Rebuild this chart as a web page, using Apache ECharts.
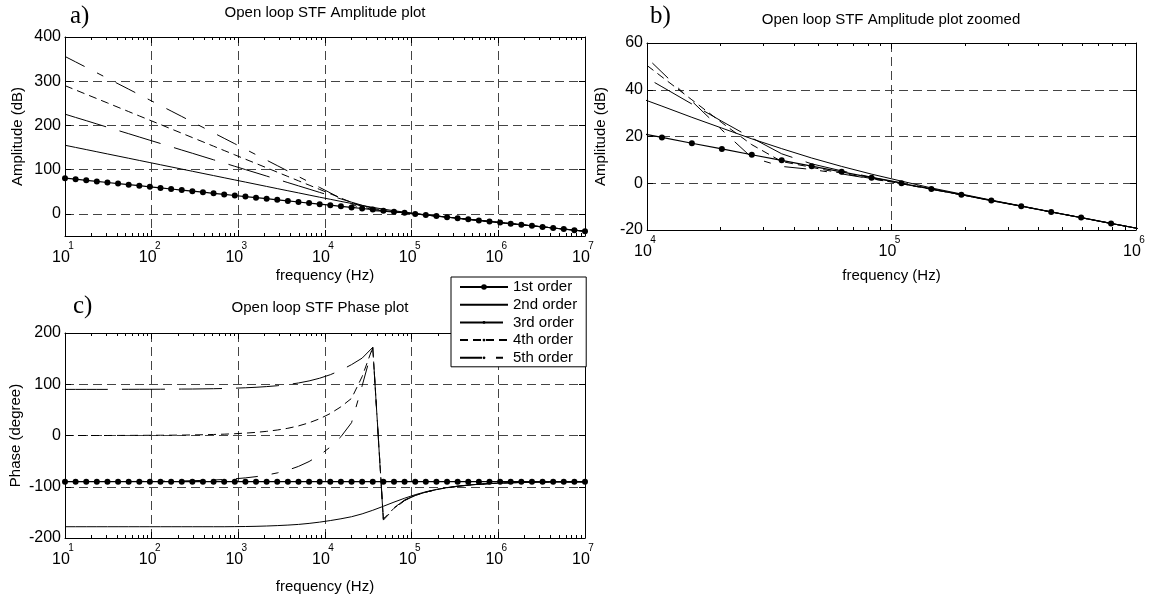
<!DOCTYPE html>
<html>
<head>
<meta charset="utf-8">
<title>Open loop STF</title>
<script src="https://cdn.jsdelivr.net/npm/echarts@6/dist/echarts.min.js"></script>
<style>
  html, body { margin: 0; padding: 0; background: #fff; }
  #chart { width: 1152px; height: 598px; }
</style>
</head>
<body>
<div id="chart"></div>
<script>
// sample frequencies (Hz), 10 Hz .. 10 MHz
const freq = [10, 13.26, 17.58, 23.30, 30.89, 40.95, 54.29, 71.97, 95.41, 126.5,
  167.7, 222.3, 294.7, 390.7, 517.9, 686.6, 910.3, 1207, 1600, 2121,
  2812, 3728, 4942, 6551, 8685, 11510, 15260, 20240, 26830, 35560,
  47150, 62510, 82860, 109900, 145600, 193100, 256000, 339300, 449800, 596400,
  790600, 1048000, 1389000, 1842000, 2442000, 3237000, 4292000, 5690000, 7543000, 10000000];

// amplitude (dB)
const amp1 = [80.8, 78.4, 75.9, 73.5, 71.0, 68.6, 66.1, 63.7, 61.2, 58.8,
  56.3, 53.9, 51.4, 49.0, 46.5, 44.1, 41.6, 39.2, 36.7, 34.3,
  31.8, 29.4, 26.9, 24.5, 22.0, 19.6, 17.1, 14.7, 12.2, 9.8,
  7.3, 4.9, 2.4, 0.0, -2.5, -4.9, -7.4, -9.8, -12.3, -14.7,
  -17.2, -19.6, -22.1, -24.5, -27.0, -29.4, -31.9, -34.3, -36.8, -39.2];
const amp2 = [155.2, 150.3, 145.4, 140.5, 135.6, 130.7, 125.8, 120.9, 116.0, 111.1,
  106.2, 101.3, 96.4, 91.5, 86.6, 81.7, 76.8, 71.9, 67.0, 62.1,
  57.2, 52.3, 47.5, 42.6, 37.7, 33.0, 28.2, 23.6, 19.0, 14.8,
  10.8, 7.2, 3.9, 0.9, -2.0, -4.6, -7.2, -9.7, -12.2, -14.7,
  -17.2, -19.6, -22.1, -24.5, -27.0, -29.4, -31.9, -34.3, -36.8, -39.2];
const amp3 = [225.5, 218.1, 210.8, 203.4, 196.0, 188.6, 181.3, 173.9, 166.5, 159.2,
  151.8, 144.4, 137.1, 129.7, 122.3, 115.0, 107.6, 100.2, 92.9, 85.5,
  78.1, 70.8, 63.4, 56.0, 48.6, 41.3, 33.9, 26.5, 19.4, 12.6,
  8.3, 5.3, 2.6, 0.2, -2.4, -4.9, -7.4, -9.8, -12.3, -14.7,
  -17.2, -19.6, -22.1, -24.5, -27.0, -29.4, -31.9, -34.3, -36.8, -39.2];
const amp4 = [290.0, 280.2, 270.4, 260.7, 250.9, 241.1, 231.3, 221.5, 211.8, 202.0,
  192.2, 182.4, 172.6, 162.9, 153.1, 143.3, 133.5, 123.7, 114.0, 104.2,
  94.4, 84.6, 74.8, 65.1, 55.3, 45.5, 35.7, 25.9, 16.5, 9.3,
  6.8, 4.3, 2.0, -0.2, -2.6, -4.9, -7.4, -9.8, -12.3, -14.7,
  -17.2, -19.6, -22.1, -24.5, -27.0, -29.4, -31.9, -34.3, -36.8, -39.2];
const amp5 = [356.0, 343.7, 331.4, 319.0, 306.7, 294.3, 282.0, 269.6, 257.3, 245.0,
  232.6, 220.3, 207.9, 195.6, 183.2, 170.9, 158.6, 146.2, 133.9, 121.5,
  109.2, 96.9, 84.5, 72.2, 59.8, 47.5, 35.1, 22.8, 11.0, 7.2,
  5.9, 4.0, 1.9, -0.2, -2.6, -4.9, -7.4, -9.8, -12.3, -14.7,
  -17.2, -19.6, -22.1, -24.5, -27.0, -29.4, -31.9, -34.3, -36.8, -39.2];

// phase (degree)
const phase1 = [-90, -90, -90, -90, -90, -90, -90, -90, -90, -90,
  -90, -90, -90, -90, -90, -90, -90, -90, -90, -90,
  -90, -90, -90, -90, -90, -90, -90, -90, -90, -90,
  -90, -90, -90, -90, -90, -90, -90, -90, -90, -90,
  -90, -90, -90, -90, -90, -90, -90, -90, -90, -90];
const phase2 = [-178, -178, -178, -178, -178, -178, -178, -178, -178, -178,
  -178, -178, -178, -178, -178, -178, -177.8, -177.6, -177.2, -176.6,
  -175.8, -174.8, -173.5, -171.5, -169.0, -166.0, -162.5, -158.5, -152.9, -145.9,
  -138.1, -130.0, -122.4, -115.5, -109.8, -105.2, -101.6, -98.8, -96.7, -95.0,
  -93.8, -92.9, -92.2, -91.6, -91.2, -90.9, -90.7, -90.5, -90.4, -90.3];
const phase3 = [90.0, 90.0, 90.0, 90.0, 90.0, 90.1, 90.1, 90.2, 90.2, 90.3,
  90.4, 90.6, 90.7, 91.0, 91.3, 91.7, 92.3, 93.1, 94.1, 95.4,
  97.1, 99.4, 102.5, 106.5, 111.8, 118.6, 127.4, 138.3, 151.0, 172.0,
  -165.0, -143.0, -127.0, -117.0, -110.5, -105.6, -101.9, -99.1, -96.9, -95.2,
  -93.9, -92.9, -92.2, -91.6, -91.2, -90.9, -90.7, -90.5, -90.4, -90.3];
const phase4 = [0.0, 0.0, 0.0, 0.0, 0.0, 0.1, 0.2, 0.3, 0.4, 0.5,
  0.6, 0.8, 1.1, 1.5, 2.0, 2.6, 3.5, 4.6, 6.1, 8.1,
  10.7, 14.1, 18.7, 24.8, 32.7, 42.9, 56.0, 72.4, 115.0, 172.0,
  -163.0, -142.0, -126.5, -116.8, -110.5, -105.6, -101.9, -99.1, -96.9, -95.2,
  -93.9, -92.9, -92.2, -91.6, -91.2, -90.9, -90.7, -90.5, -90.4, -90.3];
const phase5 = [-89.9, -89.9, -89.9, -89.8, -89.8, -89.8, -89.7, -89.6, -89.4, -89.2,
  -89.0, -88.7, -88.2, -87.6, -86.9, -85.8, -84.5, -82.7, -80.3, -77.2,
  -73.0, -67.6, -60.3, -50.8, -38.4, -22.5, -2.4, 25.0, 97.0, 172.0,
  -162.0, -141.0, -126.0, -116.5, -110.5, -105.6, -101.9, -99.1, -96.9, -95.2,
  -93.9, -92.9, -92.2, -91.6, -91.2, -90.9, -90.7, -90.5, -90.4, -90.3];

const orderNames = ['1st order', '2nd order', '3rd order', '4th order', '5th order'];
const decadesFull = [10, 100, 1000, 10000, 100000, 1000000, 10000000];
const decadesZoom = [10000, 100000, 1000000];
const ampTicks = [0, 100, 200, 300, 400];

const FONT = '"Liberation Sans", Arial, Helvetica, sans-serif';
const SERIF = '"Liberation Serif", "Times New Roman", serif';
// 小圆点图例标记（只用于图例）
const DOT = 'path://M0,0M6,6M1.5,3a1.5,1.5 0 1,0 3,0a1.5,1.5 0 1,0 -3,0z';
const NODOT = 'path://M0,0M6,6';

const gridLine = { show: true, lineStyle: { color: '#444', width: 1, type: [9, 5] } };
const black = { color: '#000', width: 1 };

function minorTicks(decades) {
  const out = [];
  for (let i = 0; i < decades.length - 1; i++) {
    for (let m = 2; m <= 9; m++) out.push(decades[i] * m);
  }
  return out;
}

// 频率轴：主轴 + 次刻度，上下各一组
function freqAxes(grid, decades, nameGap) {
  const base = { type: 'log', logBase: 10, gridIndex: grid, min: decades[0], max: decades[decades.length - 1] };
  const minors = minorTicks(decades);
  const tickOnly = (pos, ticks, len, line) => Object.assign({}, base, {
    position: pos,
    axisLine: { show: line, onZero: false, lineStyle: black },
    axisTick: { show: true, inside: true, length: len, customValues: ticks, lineStyle: black },
    axisLabel: { show: false },
    splitLine: { show: false }
  });
  return [
    Object.assign({}, base, {
      position: 'bottom',
      name: 'frequency (Hz)', nameLocation: 'middle', nameGap: nameGap,
      nameTextStyle: { fontSize: 15, color: '#000', fontFamily: FONT },
      axisLine: { show: true, onZero: false, lineStyle: black },
      axisTick: { show: true, inside: true, length: 6, customValues: decades, lineStyle: black },
      axisLabel: {
        customValues: decades, margin: 6,
        // 上标单独一行，靠右
        formatter: v => '{s|' + Math.round(Math.log10(v)) + '}\n{b|10}',
        rich: {
          b: { fontSize: 16, lineHeight: 15, padding: [0, 8, 0, 0], color: '#000', fontFamily: FONT },
          s: { fontSize: 10, lineHeight: 8, padding: [0, 0, 0, 12], color: '#000', fontFamily: FONT }
        }
      },
      splitLine: gridLine
    }),
    tickOnly('bottom', minors, 3, false),
    tickOnly('top', decades, 6, true),
    tickOnly('top', minors, 3, false)
  ];
}

function levelAxes(grid, min, max, interval, ticks, name, nameGap) {
  const base = { type: 'value', gridIndex: grid, min: min, max: max };
  if (interval) base.interval = interval;
  const tickSet = ticks ? { customValues: ticks } : {};
  return [
    Object.assign({}, base, {
      position: 'left',
      name: name, nameLocation: 'middle', nameGap: nameGap,
      nameTextStyle: { fontSize: 15, color: '#000', fontFamily: FONT },
      axisLine: { show: true, onZero: false, lineStyle: black },
      axisTick: Object.assign({ show: true, inside: true, length: 6, lineStyle: black }, tickSet),
      axisLabel: Object.assign({ margin: 4, fontSize: 16, color: '#000', fontFamily: FONT }, tickSet),
      splitLine: gridLine
    }),
    Object.assign({}, base, {
      position: 'right',
      axisLine: { show: true, onZero: false, lineStyle: black },
      axisTick: Object.assign({ show: true, inside: true, length: 6, lineStyle: black }, tickSet),
      axisLabel: { show: false },
      splitLine: { show: false }
    })
  ];
}

const lineLooks = [
  { type: 'solid', width: 1.2, symbol: 'circle', size: 6, show: true },
  { type: 'solid', width: 1, symbol: NODOT, size: 4, show: false },
  { type: [43, 14], width: 1, symbol: DOT, size: 4, show: false },
  { type: [8, 5], width: 1, symbol: DOT, size: 4, show: false },
  { type: [22, 14, 7, 14], width: 1, symbol: DOT, size: 4, show: false }
];

const amps = [amp1, amp2, amp3, amp4, amp5];
const phases = [phase1, phase2, phase3, phase4, phase5];
const panels = [
  { xAxis: 0, yAxis: 0, values: amps },
  { xAxis: 4, yAxis: 2, values: amps },
  { xAxis: 8, yAxis: 4, values: phases }
];

const series = [];
panels.forEach(function(p) {
  p.values.forEach(function(vals, n) {
    const look = lineLooks[n];
    series.push({
      name: orderNames[n],
      type: 'line',
      xAxisIndex: p.xAxis,
      yAxisIndex: p.yAxis,
      data: freq.map((f, i) => [f, vals[i]]),
      showSymbol: look.show,
      symbol: look.symbol,
      symbolSize: look.size,
      color: '#000',
      itemStyle: { color: '#000' },
      lineStyle: { color: '#000', width: look.width, type: look.type },
      clip: true,
      silent: true,
      z: 5 - n
    });
  });
});

const titleText = { fontSize: 15, fontWeight: 'normal', color: '#000', fontFamily: FONT };
const tagText = { fontSize: 25, fontWeight: 'normal', color: '#000', fontFamily: SERIF };

const option = {
  animation: false,
  backgroundColor: '#fff',
  textStyle: { fontFamily: FONT },
  title: [
    { text: 'a)', left: 70, top: 4, padding: 0, textStyle: tagText },
    { text: 'Open loop STF Amplitude plot', left: 325, top: 5, padding: 0, textAlign: 'center', textStyle: titleText },
    { text: 'b)', left: 650, top: 4, padding: 0, textStyle: tagText },
    { text: 'Open loop STF Amplitude plot zoomed', left: 891, top: 12, padding: 0, textAlign: 'center', textStyle: titleText },
    { text: 'c)', left: 73, top: 294, padding: 0, textStyle: tagText },
    { text: 'Open loop STF Phase plot', left: 320, top: 300, padding: 0, textAlign: 'center', textStyle: titleText }
  ],
  grid: [
    { left: 65, top: 37, width: 520, height: 199 },
    { left: 647, top: 43, width: 489, height: 187 },
    { left: 65, top: 333, width: 520, height: 205 }
  ],
  xAxis: [].concat(
    freqAxes(0, decadesFull, 32),
    freqAxes(1, decadesZoom, 38),
    freqAxes(2, decadesFull, 41)
  ),
  yAxis: [].concat(
    levelAxes(0, -50, 400, null, ampTicks, 'Amplitude (dB)', 40),
    levelAxes(1, -20, 60, 20, null, 'Amplitude (dB)', 39),
    levelAxes(2, -200, 200, 100, null, 'Phase (degree)', 42)
  ),
  legend: {
    data: orderNames,
    orient: 'vertical',
    left: 451,
    top: 277,
    padding: [2, 9, 1, 8],
    itemGap: 1.7,
    itemWidth: 48,
    itemHeight: 7,
    backgroundColor: '#fff',
    borderColor: '#000',
    borderWidth: 1,
    selectedMode: false,
    textStyle: { fontSize: 15, lineHeight: 16, color: '#000', fontFamily: FONT },
    z: 10
  },
  series: series
};

const chart = echarts.init(document.getElementById('chart'), null, { renderer: 'canvas' });
chart.setOption(option);
</script>
</body>
</html>
